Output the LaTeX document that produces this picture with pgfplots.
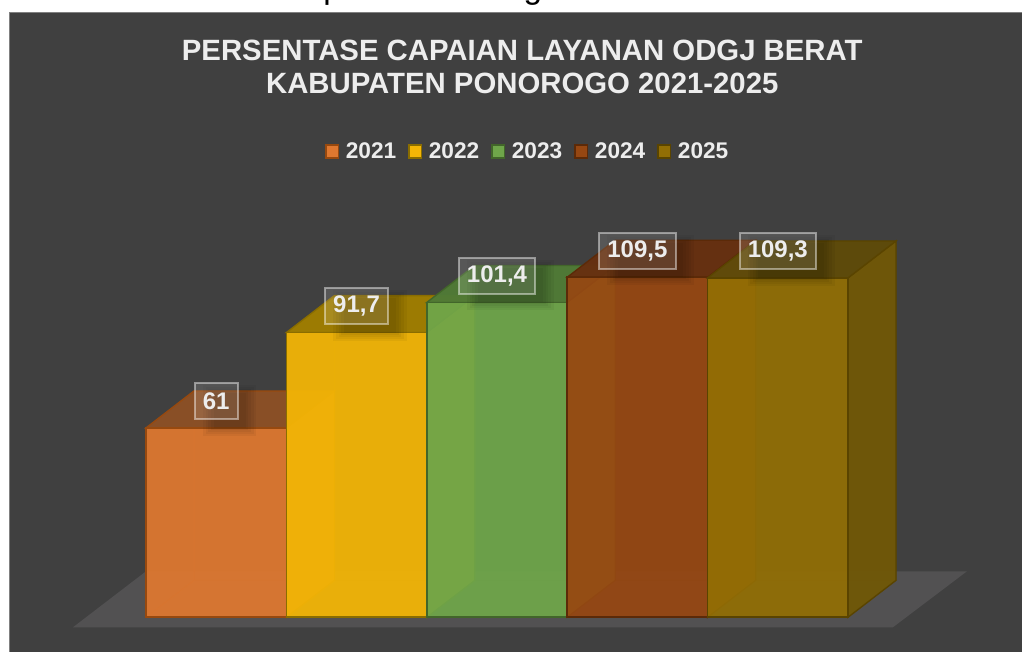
\documentclass[border=0pt]{standalone}
\usepackage{pgfplots}
\usepackage{pgfplotstable}
\usepackage{fontspec}
\setmainfont{Liberation Sans}
\pgfplotsset{compat=1.18}
\definecolor{panel}{HTML}{404040}
\definecolor{panelline}{HTML}{808080}
\definecolor{floorc}{HTML}{525152}
\definecolor{txt}{HTML}{EDEDED}
\definecolor{fa}{HTML}{DF7830}\definecolor{ea}{HTML}{97490F}\definecolor{ta}{HTML}{8B4F25}\definecolor{sa}{HTML}{B8632A}
\definecolor{fb}{HTML}{F4B606}\definecolor{eb}{HTML}{8A6D00}\definecolor{tb}{HTML}{9E7C00}\definecolor{sb}{HTML}{E0A806}
\definecolor{fc}{HTML}{6FA64A}\definecolor{ec}{HTML}{42662A}\definecolor{tc}{HTML}{4F7A36}\definecolor{sc}{HTML}{86B038}
\definecolor{fd}{HTML}{964712}\definecolor{ed}{HTML}{5C2A08}\definecolor{td}{HTML}{663010}\definecolor{sd}{HTML}{A05010}
\definecolor{fe}{HTML}{926E05}\definecolor{ee}{HTML}{5A4400}\definecolor{te}{HTML}{5E4A0A}\definecolor{se}{HTML}{6F5708}
\pgfplotstableread{
x   v     lab
0.5 61    61
1.5 91.7  {91,7}
2.5 101.4 {101,4}
3.5 109.5 {109,5}
4.5 109.3 {109,3}
}\labels
% #1 front #2 edge #3 top #4 side #5 x0 #6 x1 #7 x0+dx #8 x1+dx #9 value ; then v+dy
\newcommand{\BarBox}[9]{\def\fc{#1}\def\ec{#2}\def\tc{#3}\def\sc{#4}\def\xa{#5}\def\xb{#6}\def\xc{#7}\def\xd{#8}\def\va{#9}\BarBoxB}
\newcommand{\BarBoxB}[1]{%
  \edef\tmp{%
  \noexpand\addplot[fill=\fc,fill opacity=.35,draw=\ec,draw opacity=.25,line width=.6pt] coordinates {(\xc,11.9)(\xd,11.9)(\xd,#1)(\xc,#1)} -- cycle;
  \noexpand\addplot[fill=\fc,fill opacity=.35,draw=\ec,draw opacity=.25,line width=.6pt] coordinates {(\xa,0)(\xc,11.9)(\xc,#1)(\xa,\va)} -- cycle;
  \noexpand\addplot[fill=\fc,fill opacity=.35,draw=\ec,draw opacity=.25,line width=.6pt] coordinates {(\xa,0)(\xb,0)(\xd,11.9)(\xc,11.9)} -- cycle;
  \noexpand\addplot[fill=\sc,fill opacity=.95,draw=\ec,line width=1pt] coordinates {(\xb,0)(\xd,11.9)(\xd,#1)(\xb,\va)} -- cycle;
  \noexpand\addplot[fill=\tc,fill opacity=.95,draw=\ec,line width=1pt] coordinates {(\xa,\va)(\xb,\va)(\xd,#1)(\xc,#1)} -- cycle;
  \noexpand\addplot[fill=\fc,fill opacity=.9,draw=\ec,line width=1.3pt] coordinates {(\xa,0)(\xb,0)(\xb,\va)(\xa,\va)} -- cycle;
  }\tmp}
\pgfplotsset{
  labelnode/.style={
    nodes near coords,
    point meta=explicit symbolic,
    only marks, mark=none,
    every node near coord/.style={anchor=center,yshift=20pt,font=\bfseries\fontsize{18}{18}\selectfont,
      text=txt,minimum height=27pt,inner xsep=6.2pt,inner ysep=0pt,
      fill=white,fill opacity=.12,text opacity=1,
      draw=white,draw opacity=.45,line width=1.5pt}},
  shadownode/.style 2 args={
    nodes near coords,
    point meta=explicit symbolic,
    only marks, mark=none,
    every node near coord/.style={anchor=center,xshift=10pt,yshift=13pt,font=\bfseries\fontsize{18}{18}\selectfont,
      text opacity=0,minimum height=#1,inner xsep=#2,inner ysep=0pt,
      fill=black,fill opacity=.045,draw=none}}
}
\begin{document}
\begin{tikzpicture}
\clip (0,0) rectangle (766.5pt,489pt);
\fill[white] (0,0) rectangle (766.5pt,489pt);
\node[anchor=base,font=\fontsize{25}{25}\selectfont,text=black,inner sep=0pt] at (365.6pt,489.75pt) {Kabupaten Ponorogo 2021-2025};
\fill[panel] (7pt,0) rectangle (766.5pt,480pt);
\draw[panelline,line width=.9pt] (7.3pt,0) -- (7.3pt,479.8pt) -- (766.5pt,479.8pt);
\begin{axis}[
  at={(0,0)},anchor=south west,
  scale only axis,width=766.5pt,height=489pt,
  xmin=-1.0399,xmax=6.2393,ymin=-11.18,ymax=198.8,
  hide axis,clip=false,
  legend style={at={(0.5166,0.767)},anchor=center,draw=none,fill=none,
    text=txt,font=\bfseries\fontsize{17}{17}\selectfont,
    legend columns=5,
    /tikz/column 1/.style={column sep=3pt},
    /tikz/column 3/.style={column sep=3pt},
    /tikz/column 5/.style={column sep=3pt},
    /tikz/column 7/.style={column sep=3pt},
    /tikz/column 9/.style={column sep=3pt},
    /tikz/column 2/.style={column sep=6.75pt},
    /tikz/column 4/.style={column sep=6.75pt},
    /tikz/column 6/.style={column sep=6.75pt},
    /tikz/column 8/.style={column sep=6.75pt}},
  legend image code/.code={\draw[#1,line width=1.2pt] (0pt,-4.5pt) rectangle (9.5pt,5pt);},
  legend cell align=left,
]
\addlegendimage{fill=fa,draw=ea}\addlegendentry{2021}
\addlegendimage{fill=fb,draw=eb}\addlegendentry{2022}
\addlegendimage{fill=fc,draw=ec}\addlegendentry{2023}
\addlegendimage{fill=fd,draw=ed}\addlegendentry{2024}
\addlegendimage{fill=fe,draw=ee}\addlegendentry{2025}
\addplot[fill=floorc,draw=none,forget plot] coordinates {(-0.52,-3.22)(5.32,-3.22)(5.847,14.8)(0,14.8)} -- cycle;
\pgfplotsset{every axis plot/.append style={forget plot}}
\BarBox{fa}{ea}{ta}{sa}{0}{1}{0.342}{1.342}{61}{72.9}
\BarBox{fb}{eb}{tb}{sb}{1}{2}{1.342}{2.342}{91.7}{103.6}
\BarBox{fc}{ec}{tc}{sc}{2}{3}{2.342}{3.342}{101.4}{113.3}
\BarBox{fd}{ed}{td}{sd}{3}{4}{3.342}{4.342}{109.5}{121.4}
\BarBox{fe}{ee}{te}{se}{4}{5}{4.342}{5.342}{109.3}{121.2}
\addplot[shadownode={38pt}{10pt}] table[x=x,y=v,meta=lab] {\labels};
\addplot[shadownode={35pt}{8pt}] table[x=x,y=v,meta=lab] {\labels};
\addplot[shadownode={32pt}{6pt}] table[x=x,y=v,meta=lab] {\labels};
\addplot[shadownode={29pt}{4pt}] table[x=x,y=v,meta=lab] {\labels};
\addplot[shadownode={26pt}{2pt}] table[x=x,y=v,meta=lab] {\labels};
\addplot[labelnode] table[x=x,y=v,meta=lab] {\labels};
\node[align=center,text=txt,font=\bfseries\fontsize{22}{24.75}\selectfont] at (axis cs:2.68,177.2) {PERSENTASE CAPAIAN LAYANAN ODGJ BERAT\\KABUPATEN PONOROGO 2021-2025};
\end{axis}
\end{tikzpicture}
\end{document}
